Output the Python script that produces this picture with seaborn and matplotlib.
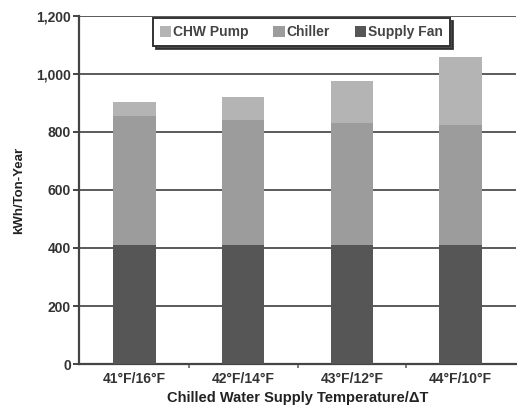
import matplotlib
matplotlib.use("Agg")
import matplotlib.pyplot as plt
import numpy as np
import pandas as pd
import seaborn as sns

categories = ["41°F/16°F", "42°F/14°F", "43°F/12°F", "44°F/10°F"]
supply_fan = [410, 410, 410, 410]
chiller = [445, 430, 420, 415]
chw_pump = [50, 82, 147, 235]
y_ticks = [0, 200, 400, 600, 800, 1000, 1200]

colors = {"CHW Pump": "#b4b4b4", "Chiller": "#9c9c9c", "Supply Fan": "#565656"}

sns.set_theme(style="white")
plt.rcParams["font.family"] = ["Liberation Sans", "DejaVu Sans"]

df = pd.DataFrame({
    "cat": categories,
    "fan": supply_fan,
    "chiller": chiller,
    "pump": chw_pump,
})
df["fan_top"] = df["fan"]
df["chiller_top"] = df["fan"] + df["chiller"]
df["pump_top"] = df["chiller_top"] + df["pump"]

fig = plt.figure(figsize=(5.17, 4.09), dpi=100)
ax = fig.add_axes([0.153, 0.11, 0.845, 0.851])

# stacked bars drawn as layered cumulative totals
for col, name in [("pump_top", "CHW Pump"), ("chiller_top", "Chiller"), ("fan_top", "Supply Fan")]:
    sns.barplot(data=df, x="cat", y=col, color=colors[name], width=0.39,
                saturation=1, ax=ax, zorder=3, label=name, linewidth=0,
                edgecolor="none")

if ax.get_legend() is not None:
    ax.get_legend().remove()

ax.set_ylim(0, 1200)
ax.set_xlim(-0.51, 3.51)
ax.set_yticks(y_ticks)
ax.set_yticklabels([f"{v:,}" for v in y_ticks])
ax.yaxis.grid(True, color="#5a5a5a", linewidth=1.4, zorder=1)
ax.set_axisbelow(True)

for s in ["top", "right"]:
    ax.spines[s].set_visible(False)
for s in ["left", "bottom"]:
    ax.spines[s].set_color("#444444")
    ax.spines[s].set_linewidth(1.6)

ax.tick_params(axis="y", which="major", direction="out", length=4, width=1.4,
               color="#444444", labelsize=10, labelcolor="#333333", pad=2, left=True)
ax.tick_params(axis="x", which="major", length=0, labelsize=10, labelcolor="#333333", pad=6)
ax.set_xticks([0.5, 1.5, 2.5], minor=True)
ax.tick_params(axis="x", which="minor", direction="out", length=3, width=1.2,
               color="#666666", bottom=True)
for lbl in ax.get_xticklabels() + ax.get_yticklabels():
    lbl.set_fontweight("bold")

ax.set_xlabel("Chilled Water Supply Temperature/ΔT", fontsize=10.5, fontweight="bold",
              color="#222222", labelpad=3)
ax.set_ylabel("kWh/Ton-Year", fontsize=9.5, fontweight="bold", color="#222222", labelpad=8)

handles, labels = ax.get_legend_handles_labels()
leg = fig.legend(handles, labels, loc="upper center", bbox_to_anchor=(0.583, 0.972),
                 ncol=3, fontsize=10, frameon=True, fancybox=False,
                 shadow={"color": "#2a2a2a", "alpha": 0.85},
                 handlelength=0.8, handleheight=0.8, handletextpad=0.15,
                 columnspacing=1.8, borderpad=0.5, edgecolor="#333333")
leg.get_frame().set_linewidth(1.4)
for t in leg.get_texts():
    t.set_color("#444444")
    t.set_fontweight("bold")

fig.savefig("out.png", dpi=100, facecolor="white")
